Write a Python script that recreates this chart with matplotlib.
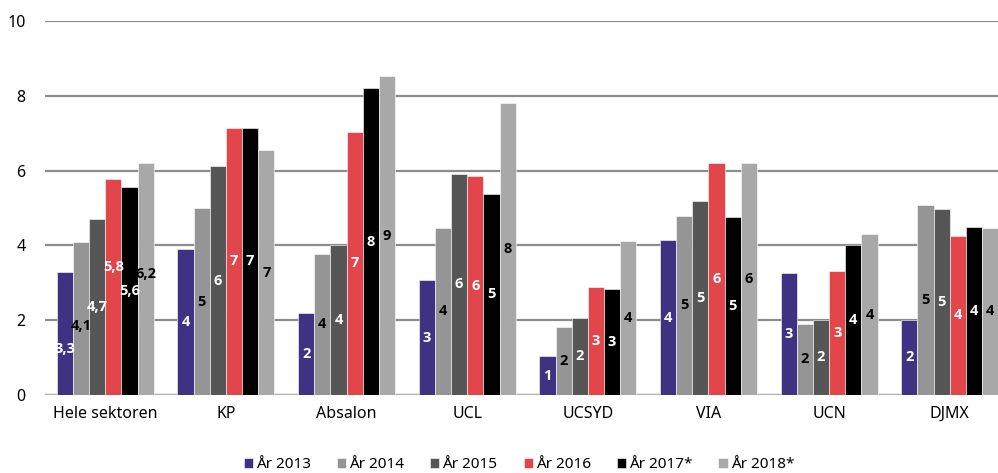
import matplotlib
matplotlib.use("Agg")
from matplotlib import pyplot as plt
import numpy as np

plt.rcParams['font.family'] = ['Noto Sans', 'DejaVu Sans']

kategorier = ['Hele sektoren', 'KP', 'Absalon', 'UCL', 'UCSYD', 'VIA', 'UCN', 'DJMX']
aar = ['År 2013', 'År 2014', 'År 2015', 'År 2016', 'År 2017*', 'År 2018*']

v2013 = [3.3, 3.9, 2.2, 3.07, 1.04, 4.14, 3.25, 2.01]
v2014 = [4.1, 4.99, 3.78, 4.47, 1.81, 4.79, 1.9, 5.07]
v2015 = [4.7, 6.12, 4.01, 5.92, 2.06, 5.2, 2.01, 4.97]
v2016 = [5.77, 7.14, 7.04, 5.85, 2.88, 6.19, 3.31, 4.26]
v2017 = [5.56, 7.14, 8.2, 5.38, 2.83, 4.77, 4.02, 4.5]
v2018 = [6.21, 6.55, 8.52, 7.8, 4.12, 6.19, 4.3, 4.47]

serier = [v2013, v2014, v2015, v2016, v2017, v2018]
farver = ['#3f3282', '#959595', '#565656', '#e2464a', '#000000', '#a8a8a8']
tekstfarver = ['white', 'black', 'white', 'white', 'white', 'black']

# etiketter i "Hele sektoren" er flyttet lidt i originalen
flyt = {0: -0.42, 1: -0.2, 3: 0.54, 5: 0.14}

fig = plt.figure(figsize=(9.98, 4.73), dpi=100)
ax = fig.add_axes([45/998, 78/473, 953/998, 374/473])

x = np.arange(len(kategorier))
w = 0.134
for i, vals in enumerate(serier):
    pos = x + (i - 2.5) * w
    ax.bar(pos, vals, w, color=farver[i], label=aar[i], zorder=3,
           edgecolor='white', linewidth=0.4)
    for j, v in enumerate(vals):
        y = v / 2
        if j == 0:
            y += flyt.get(i, 0)
            txt = ('%.1f' % v).replace('.', ',')
        else:
            txt = '%d' % round(v)
        ax.text(pos[j], y, txt, ha='center', va='center', color=tekstfarver[i],
                fontsize=10.5, fontweight='bold', zorder=4,
                family=['Open Sans', 'Lato', 'DejaVu Sans'])

ax.set_xlim(-0.5, 7.40)
ax.set_ylim(0, 10)
ax.set_yticks([0, 2, 4, 6, 8, 10])
ax.set_xticks(x)
ax.set_xticklabels(kategorier, fontsize=11.5)
ax.tick_params(axis='y', labelsize=11.5, length=0, pad=14)
ax.tick_params(axis='x', length=0, pad=8)
ax.grid(axis='y', color='#8c8c8c', linewidth=1.6, zorder=0)
for s in ax.spines.values():
    s.set_visible(False)
ax.axhline(0, color='#b0b0b0', linewidth=1.6, zorder=2)

fig.legend(loc='center', bbox_to_anchor=(0.52, 0.017), ncol=6, frameon=False,
           fontsize=11, handlelength=0.6, handleheight=0.6, handletextpad=0.2,
           columnspacing=1.7)

fig.savefig('out.png', dpi=100)
